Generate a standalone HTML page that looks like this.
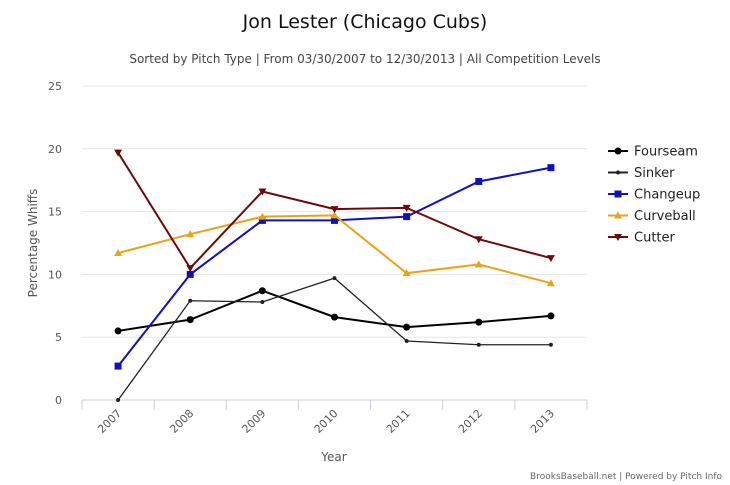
<!DOCTYPE html>
<html><head><meta charset="utf-8"><style>
body{margin:0;background:#fff;}
svg{display:block;font-family:"DejaVu Sans","Liberation Sans",sans-serif;}
</style></head><body>
<svg id="c" width="730" height="485" viewBox="0 0 730 485">
<text x="365" y="28" text-anchor="middle" font-size="19" fill="#111">Jon Lester (Chicago Cubs)</text>
<text x="365" y="63" text-anchor="middle" font-size="12" fill="#444">Sorted by Pitch Type | From 03/30/2007 to 12/30/2013 | All Competition Levels</text>
<text x="37" y="243" text-anchor="middle" font-size="12" fill="#555" transform="rotate(-90 37 243)">Percentage Whiffs</text>
<text x="334" y="461" text-anchor="middle" font-size="12" fill="#555">Year</text>
<text x="722" y="479" text-anchor="end" font-size="9" fill="#666">BrooksBaseball.net | Powered by Pitch Info</text>
<g id="grid"></g><g id="series"></g><g id="legend"></g>
</svg>
<script>
const categories=["2007","2008","2009","2010","2011","2012","2013"];
const yTicks=[0,5,10,15,20,25];
const seriesNames=["Fourseam","Sinker","Changeup","Curveball","Cutter"];
const fourseam=[5.5,6.4,8.7,6.6,5.8,6.2,6.7];
const sinker=[0,7.9,7.8,9.7,4.7,4.4,4.4];
const changeup=[2.7,10.0,14.3,14.3,14.6,17.4,18.5];
const curveball=[11.7,13.2,14.6,14.7,10.1,10.8,9.3];
const cutter=[19.7,10.5,16.6,15.2,15.3,12.8,11.3];
const values=[fourseam,sinker,changeup,curveball,cutter];
const colors=["#000","#222","#1010c0","#e8a317","#6b0a0a"];
const NS="http://www.w3.org/2000/svg";
const L=82,R=587,T=86,B=400,step=(R-L)/categories.length;
const x=i=>L+step*(i+0.5);
const y=v=>B-(v/25)*(B-T);
function mk(tag,attrs,parent){const e=document.createElementNS(NS,tag);for(const k in attrs)e.setAttribute(k,attrs[k]);parent.appendChild(e);return e;}
const g=document.getElementById('grid');
yTicks.forEach(t=>{
 const ln=mk('line',{x1:L,x2:R,y1:y(t),y2:y(t),stroke:t===0?'#ccd':'#e6e6e6','stroke-width':1},g);
 
 
 const tx=mk('text',{x:62,y:y(t)+4,'text-anchor':'end','font-size':11,fill:'#555'},g);tx.textContent=t;
 
 
});
for(let i=0;i<=categories.length;i++){
 const tk=mk('line',{x1:L+step*i,x2:L+step*i,y1:B,y2:B+10,stroke:'#ccd'},g);
 
 
}
categories.forEach((c,i)=>{
 const tx=mk('text',{x:x(i)+4,y:B+14,'text-anchor':'end','font-size':11,fill:'#555',transform:`rotate(-45 ${x(i)+4} ${B+14})`},g);tx.textContent=c;
 
 
});
function marker(k,cx,cy,col,p){
 let e;
 if(k===0)e=mk('circle',{cx,cy,r:3.5,fill:col},p);
 else if(k===1)e=mk('circle',{cx,cy,r:2,fill:col},p);
 else if(k===2)e=mk('rect',{x:cx-3.5,y:cy-3.5,width:7,height:7,fill:col},p);
 else if(k===3)e=mk('path',{d:`M${cx},${cy-4}L${cx+4},${cy+3}L${cx-4},${cy+3}Z`,fill:col},p);
 else e=mk('path',{d:`M${cx},${cy+4}L${cx+4},${cy-3}L${cx-4},${cy-3}Z`,fill:col},p);
 return e;
}
const sg=document.getElementById('series');
values.forEach((vals,k)=>{
 const grp=mk('g',{},sg);
 
 
 const pl=mk('polyline',{points:vals.map((v,i)=>x(i)+','+y(v)).join(' '),fill:'none',stroke:colors[k],'stroke-width':k===1?1.3:2},grp);
 
 
 vals.forEach((v,i)=>{const m=marker(k,x(i),y(v),colors[k],grp);
  
  });
});
const lg=document.getElementById('legend');
seriesNames.forEach((n,k)=>{
 const ly=151+k*21.5;
 const grp=mk('g',{},lg);
 
 
 mk('line',{x1:608,x2:628,y1:ly,y2:ly,stroke:colors[k],'stroke-width':2},grp);
 marker(k,618,ly,colors[k],grp);
 const t=mk('text',{x:634,y:ly+4.5,'font-size':13,fill:'#222'},grp);t.textContent=n;
});
</script>
</body></html>
